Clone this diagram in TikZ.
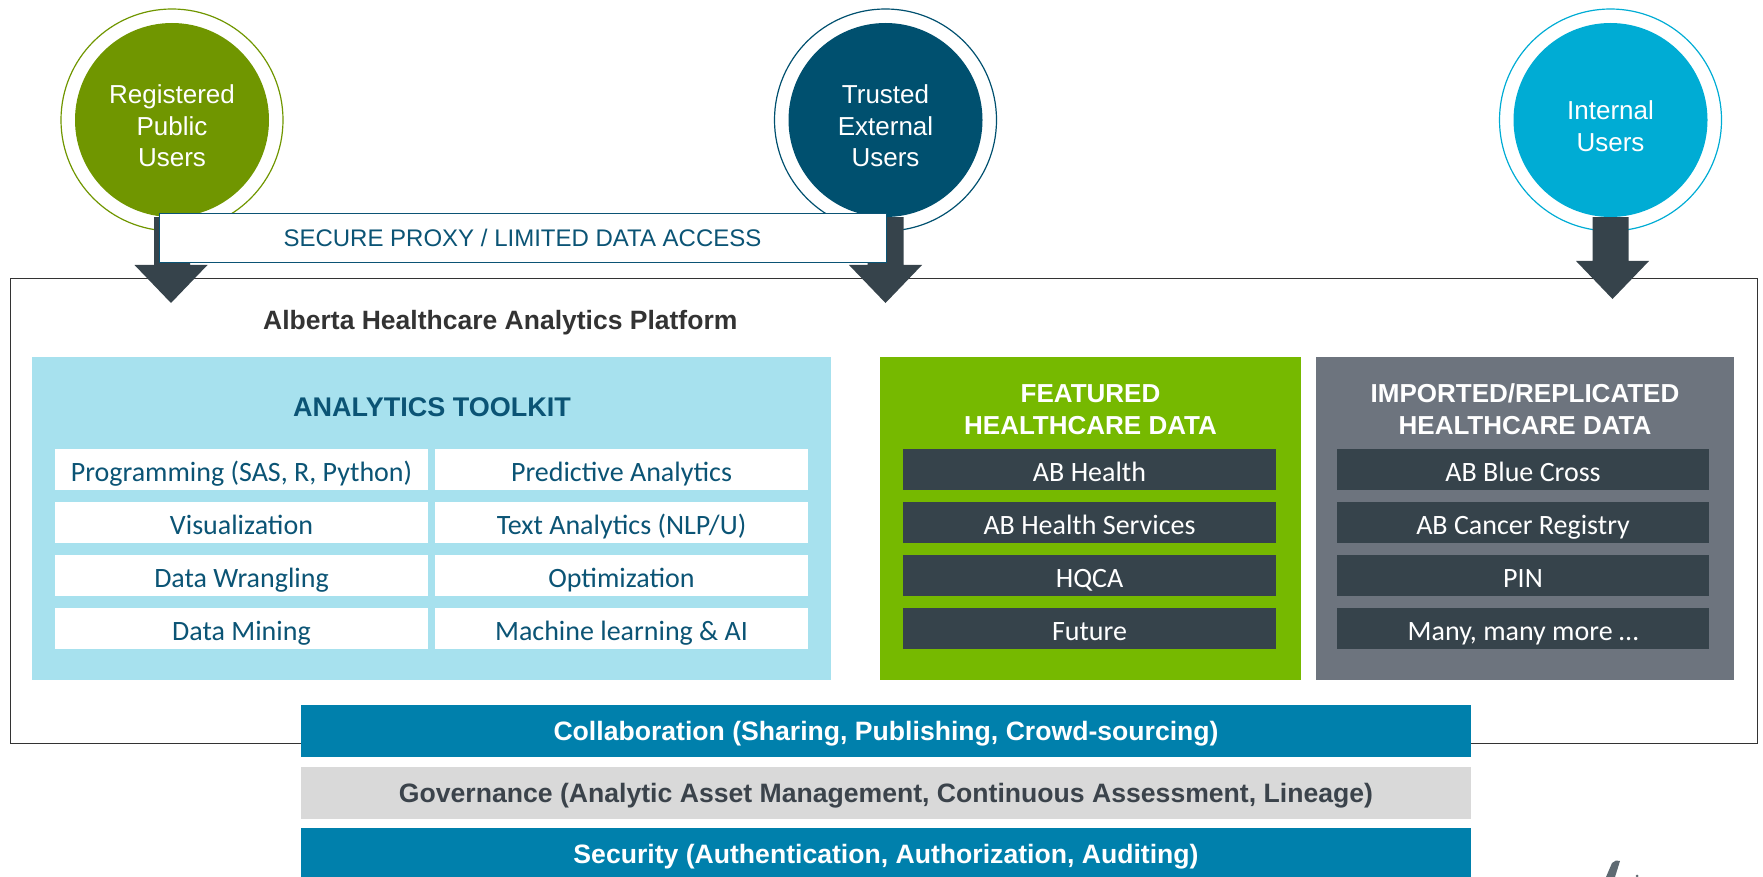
\documentclass[tikz,border=0pt]{standalone}
\usepackage{fontspec}
\setmainfont{Liberation Sans}
\newfontfamily\calfont{Carlito}
\usetikzlibrary{calc}

\definecolor{reggreen}{HTML}{709600}
\definecolor{extblue}{HTML}{00506F}
\definecolor{intblue}{HTML}{00ACD4}
\definecolor{arrowc}{HTML}{36434B}
\definecolor{tealtxt}{HTML}{0B5475}
\definecolor{toolfill}{HTML}{A7E1EE}
\definecolor{featfill}{HTML}{76B900}
\definecolor{impfill}{HTML}{6D747E}
\definecolor{barblue}{HTML}{0080AC}
\definecolor{bargray}{HTML}{D9D9D9}
\definecolor{titlegray}{HTML}{333333}
\definecolor{govtxt}{HTML}{3B434B}
\definecolor{logogray}{HTML}{5E6A72}

% block arrow from a circle down to a tip
\newcommand{\userarrow}[2]{%
  \fill[arrowc] ($(#1)+(-18,0)$) |- ($(#2)+(-36.5,-38)$) -- (#2)
    -- ($(#2)+(36.5,-38)$) -| ($(#1)+(18,0)$) -- cycle;}

\begin{document}
\begin{tikzpicture}[x=1pt,y=-1pt,
    usercirc/.style={circle, minimum size=194, inner sep=0},
    usertext/.style={text=white, align=center, yshift=-6pt,
      font=\fontsize{26}{31.5}\selectfont},
    panel/.style={minimum height=323, inner sep=0},
    paneltitle/.style={align=center, font=\bfseries\fontsize{26}{32.3}\selectfont},
    item/.style={minimum width=373, minimum height=41, inner sep=0,
      text height=26, text depth=2, font=\calfont\fontsize{28}{30}\selectfont},
    toolitem/.style={item, fill=white, text=tealtxt},
    dataitem/.style={item, fill=arrowc, text=white},
    bar/.style={minimum width=1170, minimum height=52, inner sep=0,
      text height=19, text depth=0, font=\bfseries\fontsize{26.6}{30}\selectfont}]
    \useasboundingbox (0,0) rectangle (1763,877);

    % Platform frame
    \node[draw=titlegray, line width=1.2, minimum width=1747, minimum height=465,
      inner sep=0, anchor=north west] (plat) at (10,278) {};
    \node[anchor=west, inner sep=0, text=titlegray, text height=19, text depth=0,
      font=\bfseries\fontsize{26.5}{30}\selectfont] (title) at (263,320)
      {Alberta Healthcare Analytics Platform};

    % User circles
    \node[usercirc, fill=reggreen,
      label={[usertext]center:Registered\\Public\\Users}] (reg) at (172,120) {};
    \node[usercirc, fill=extblue,
      label={[usertext]center:Trusted\\External\\Users}] (ext) at (885.5,120) {};
    \node[usercirc, fill=intblue,
      label={[usertext]center:Internal\\Users}] (intl) at (1610.5,120) {};
    \draw[reggreen, line width=1.2] (reg.center) circle[radius=111];
    \draw[extblue, line width=1.2] (ext.center) circle[radius=111];
    \draw[intblue, line width=1.2] (intl.center) circle[radius=111];

    % Arrows into the platform
    \coordinate (regtip) at (171,303);
    \coordinate (exttip) at (885.5,303);
    \coordinate (intltip) at (1612.5,299);
    \userarrow{reg.south}{regtip}
    \userarrow{ext.south}{exttip}
    \userarrow{intl.south}{intltip}

    % Proxy
    \node[draw=tealtxt, line width=1, fill=white, minimum width=727, minimum height=49,
      inner sep=0, text=tealtxt, text height=17, text depth=0,
      font=\fontsize{24}{28}\selectfont] (proxy) at (522.5,238)
      {SECURE PROXY / LIMITED DATA ACCESS};

    % Panels
    \node[panel, fill=toolfill, minimum width=799] (tool) at (431.5,518.5) {};
    \node[panel, fill=featfill, minimum width=421] (feat) at (1090.5,518.5) {};
    \node[panel, fill=impfill, minimum width=418] (imp) at (1525,518.5) {};
    \node[paneltitle, text=tealtxt, font=\bfseries\fontsize{27}{30}\selectfont]
      (tooltitle) at (432,407.5) {ANALYTICS TOOLKIT};
    \node[paneltitle, text=white] (feattitle) at (1090.5,409.5)
      {FEATURED\\HEALTHCARE DATA};
    \node[paneltitle, text=white] (imptitle) at (1525,409.5)
      {IMPORTED/REPLICATED\\HEALTHCARE DATA};

    % Items
    \foreach \txt [count=\i] in {{Programming (SAS, R, Python)}, Visualization,
        Data Wrangling, Data Mining}
      \node[toolitem] (tl\i) at (241.5,416.5+53*\i) {\txt};
    \foreach \txt [count=\i] in {Predictive Analytics, Text Analytics (NLP/U),
        Optimization, Machine learning \& AI}
      \node[toolitem] (tr\i) at (621.5,416.5+53*\i) {\txt};
    \foreach \txt [count=\i] in {AB Health, AB Health Services, HQCA, Future}
      \node[dataitem] (fd\i) at (1089.5,416.5+53*\i) {\txt};
    \foreach \txt [count=\i] in {AB Blue Cross, AB Cancer Registry, PIN,
        {Many, many more …}}
      \node[dataitem, minimum width=372] (im\i) at (1523,416.5+53*\i) {\txt};

    % Bars
    \node[bar, fill=barblue, text=white] (collab) at (886,731)
      {Collaboration (Sharing, Publishing, Crowd-sourcing)};
    \node[bar, fill=bargray, text=govtxt] (gov) at (886,793)
      {Governance (Analytic Asset Management, Continuous Assessment, Lineage)};
    \node[bar, fill=barblue, text=white] (secu) at (886,854)
      {Security (Authentication, Authorization, Auditing)};

    % Logo corner
    \fill[logogray] (1606,877) -- (1612,863) -- (1616,860.5) -- (1620,861)
      -- (1615,877) -- cycle;
    \fill[logogray] (1637,876) circle[radius=1.5];
\end{tikzpicture}
\end{document}
